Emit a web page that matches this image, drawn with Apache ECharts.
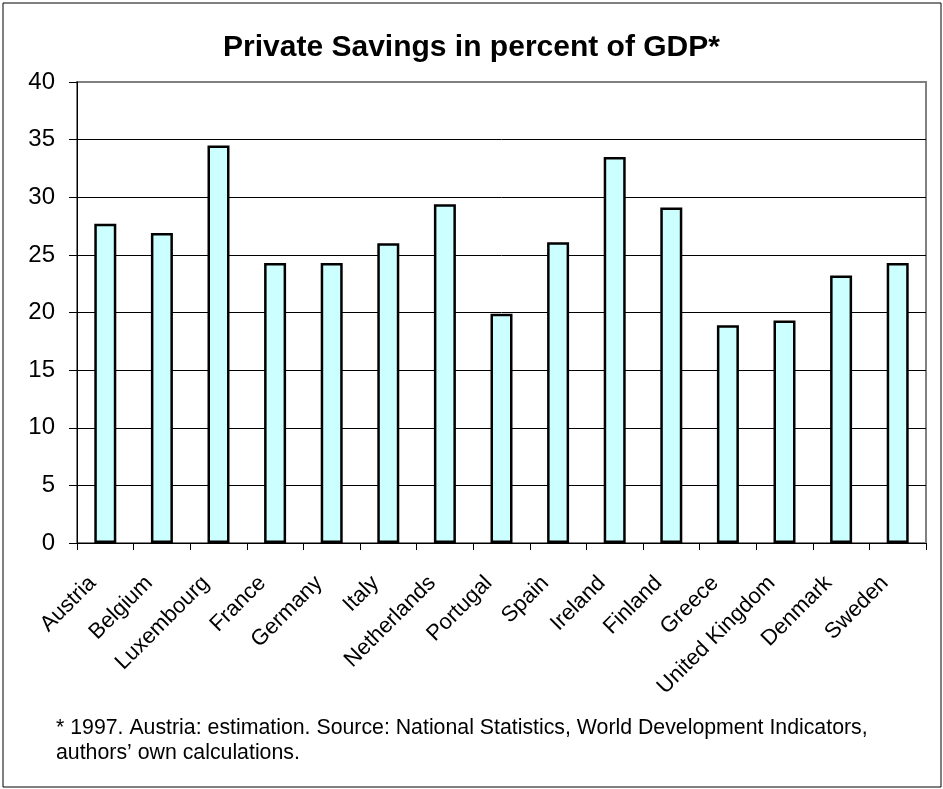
<!DOCTYPE html>
<html>
<head>
<meta charset="utf-8">
<script src="https://cdn.jsdelivr.net/npm/echarts@6/dist/echarts.min.js"></script>
<style>
html,body{margin:0;padding:0;background:#fff;}
#chart{width:943px;height:789px;}
</style>
</head>
<body>
<div id="chart"></div>
<script>
const titleText = 'Private Savings in percent of GDP*';
const categories = ['Austria','Belgium','Luxembourg','France','Germany','Italy','Netherlands','Portugal','Spain','Ireland','Finland','Greece','United Kingdom','Denmark','Sweden'];
const values = [27.7, 26.9, 34.5, 24.3, 24.3, 26.0, 29.4, 19.9, 26.1, 33.5, 29.1, 18.9, 19.3, 23.2, 24.3];
const yTicks = [0, 5, 10, 15, 20, 25, 30, 35, 40];
const footnote = '* 1997. Austria: estimation. Source: National Statistics, World Development Indicators,\nauthors\u2019 own calculations.';

const FONT = '"Liberation Sans", Arial, sans-serif';
const chart = echarts.init(document.getElementById('chart'), null, {renderer: 'canvas'});
const gridColors = yTicks.map((t, i) => i === yTicks.length - 1 ? '#808080' : '#000000');

chart.setOption({
  backgroundColor: '#ffffff',
  animation: false,
  title: {
    text: titleText,
    left: 'center',
    top: 28,
    textStyle: {fontFamily: FONT, fontSize: 30, fontWeight: 'bold', color: '#000'}
  },
  grid: {
    left: 77, right: 17, top: 82, bottom: 246,
    show: true, borderColor: '#808080', borderWidth: 2, backgroundColor: 'transparent'
  },
  xAxis: {
    type: 'category',
    data: categories,
    axisLine: {show: true, lineStyle: {color: '#000', width: 1}},
    axisTick: {show: true, alignWithLabel: false, length: 7, lineStyle: {color: '#000'}},
    axisLabel: {rotate: 45, interval: 0, margin: 24, padding: [0, 18, 0, 0], fontFamily: FONT, fontSize: 22, color: '#000'},
    splitLine: {show: false}
  },
  yAxis: {
    type: 'value',
    min: yTicks[0],
    max: yTicks[yTicks.length - 1],
    interval: 5,
    axisLine: {show: true, lineStyle: {color: '#000', width: 1}},
    axisTick: {show: true, length: 8, lineStyle: {color: '#000'}},
    axisLabel: {margin: 22, fontFamily: FONT, fontSize: 24, color: '#000'},
    splitLine: {show: true, lineStyle: {color: gridColors, width: 1}}
  },
  series: [{
    type: 'bar',
    data: values,
    barWidth: 22,
    itemStyle: {color: '#CCFFFF', borderColor: '#000', borderWidth: 2.5}
  }],
  graphic: [
    {type: 'rect', shape: {x: 3, y: 3, width: 938, height: 784}, style: {fill: 'none', stroke: '#000', lineWidth: 1}, silent: true},
    {type: 'text', left: 56, top: 716, style: {text: footnote, fontFamily: FONT, fontSize: 21.3, lineHeight: 25, fill: '#000'}}
  ]
});
</script>
</body>
</html>
